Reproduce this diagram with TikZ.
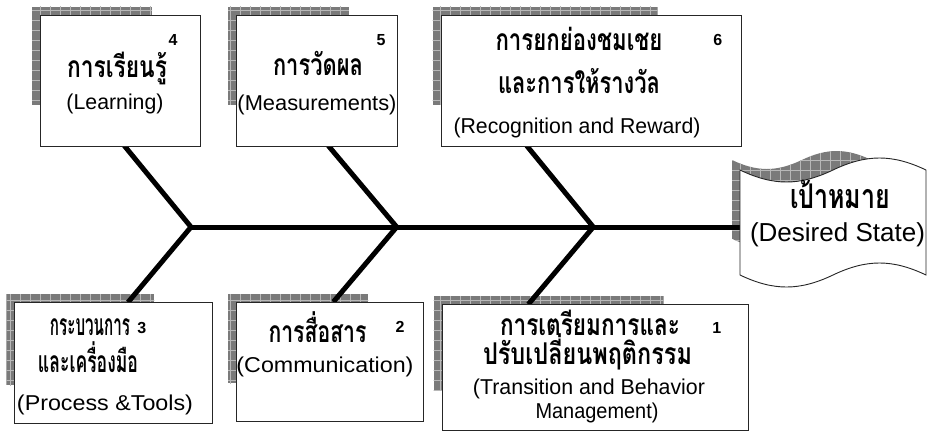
\documentclass[tikz,border=0pt]{standalone}
\usepackage{fontspec}
\usepackage{graphicx}
\setmainfont{Liberation Sans}
\newfontfamily\thaifont[Script=Thai]{Loma}
\newcommand\fitw[2]{\resizebox{#1pt}{\height}{#2}}
\newcommand\fitth[2]{\raisebox{0pt}[0.72em][0pt]{\resizebox{#1pt}{\height}{#2}}}
\tikzset{
  box/.style={draw=black!85, line width=0.9pt, fill=white, anchor=north west, inner sep=0pt},
  bone/.style={line width=5pt, line join=miter},
  thtxt/.style={font=\thaifont\bfseries\fontsize{30}{34}\selectfont, inner sep=0pt, anchor=base},
  entxt/.style={font=\fontsize{21.5}{25}\selectfont, inner sep=0pt, anchor=base},
  numtxt/.style={font=\bfseries\fontsize{16}{18}\selectfont, inner sep=0pt, anchor=base},
  shfill/.style={fill=black!52},
  shgrid/.style={draw=black!28, line width=0.6pt},
}
\newcommand\shadowrect[4]{%
  \begin{scope}
    \clip (#1-8,#2-8) rectangle ++(0.75*#3,0.75*#4);
    \fill[shfill] (#1-8,#2-8) rectangle ++(0.75*#3,0.75*#4);
    \draw[shgrid, step=10pt] (#1-20,#2+#4) grid (#1+#3,#2-20);
  \end{scope}}
\begin{document}
\begin{tikzpicture}[x=1pt,y=-1pt]
\useasboundingbox (0,0) rectangle (927,432);
\fill[white] (0,0) rectangle (927,432);

% shadows
\shadowrect{40}{14.7}{160}{131}
\shadowrect{236}{14.7}{161}{131}
\shadowrect{440.7}{14.7}{300}{131}
\shadowrect{14.3}{302.3}{197.4}{121}
\shadowrect{236}{302}{187}{118.7}
\shadowrect{441.7}{304.3}{306.6}{125.7}
\begin{scope}
  \clip[shift={(732,160)},scale=0.75] (0,0) .. controls (33.5,16) and (59.5,16) .. (93,0)
     .. controls (126.5,-16) and (152.5,-16) .. (186,0) -- (186,105)
     .. controls (152.5,89) and (126.5,89) .. (93,105)
     .. controls (59.5,121) and (33.5,121) .. (0,105) -- cycle;
  \fill[shfill] (720,140) rectangle (900,260);
  \draw[shgrid, step=10pt] (720,260) grid (900,140);
\end{scope}

% fishbone coordinates
\coordinate (j1) at (191,227);
\coordinate (j2) at (396.7,227);
\coordinate (j3) at (593.3,227);
\coordinate (e4) at (124.3,145.7);
\coordinate (e3) at (128,302.3);
\coordinate (e5) at (328.3,145.7);
\coordinate (e2) at (333.3,302);
\coordinate (e6) at (526.7,145.7);
\coordinate (e1) at (528.3,304.3);
\coordinate (gend) at (740,227);

\draw[bone] (e4) -- (j1) -- (e3);
\draw[bone] (e5) -- (j2) -- (e2);
\draw[bone] (e6) -- (j3) -- (e1);
\draw[bone] (j1) -- (gend);

% boxes
\node[box, minimum width=160pt, minimum height=131pt] (b4) at (40,14.7) {};
\node[box, minimum width=161pt, minimum height=131pt] (b5) at (236,14.7) {};
\node[box, minimum width=300pt, minimum height=131pt] (b6) at (440.7,14.7) {};
\node[box, minimum width=197.4pt, minimum height=121pt] (b3) at (14.3,302.3) {};
\node[box, minimum width=187pt, minimum height=118.7pt] (b2) at (236,302) {};
\node[box, minimum width=306.6pt, minimum height=125.7pt] (b1) at (441.7,304.3) {};

% goal shape
\filldraw[fill=white, draw=black!85, line width=0.9pt, shift={(740,170)}]
  (0,0) .. controls (33.5,16) and (59.5,16) .. (93,0)
  .. controls (126.5,-16) and (152.5,-16) .. (186,0) -- (186,105)
  .. controls (152.5,89) and (126.5,89) .. (93,105)
  .. controls (59.5,121) and (33.5,121) .. (0,105) -- cycle;

% texts box 4
\node[numtxt] (n4) at (173,45) {4};
\node[thtxt] (t4) at (117,77) {\fitth{100}{การเรียนรู้}};
\node[entxt] (l4) at (115,109) {\fitw{97}{(Learning)}};
% box 5
\node[numtxt] (n5) at (381,45) {5};
\node[thtxt] (t5) at (318,75) {\fitth{90}{การวัดผล}};
\node[entxt] (l5) at (317,110) {\fitw{159}{(Measurements)}};
% box 6
\node[numtxt] (n6) at (717.7,45) {6};
\node[thtxt] (t6a) at (579,50) {\fitth{167}{การยกย่องชมเชย}};
\node[thtxt] (t6b) at (579,93) {\fitth{162}{และการให้รางวัล}};
\node[entxt] (l6) at (577,133) {\fitw{247}{(Recognition and Reward)}};
% box 3
\node[numtxt] (n3) at (141.7,333) {3};
\node[thtxt] (t3a) at (90,335) {\fitth{80}{กระบวนการ}};
\node[thtxt] (t3b) at (88,372) {\fitth{100}{และเครื่องมือ}};
\node[entxt] (l3) at (105,410) {\fitw{176}{(Process \&Tools)}};
% box 2
\node[numtxt] (n2) at (400,332) {2};
\node[thtxt] (t2) at (317.5,342) {\fitth{98}{การสื่อสาร}};
\node[entxt] (l2) at (325,372) {\fitw{177}{(Communication)}};
% box 1
\node[numtxt] (n1) at (716.7,333) {1};
\node[thtxt] (t1a) at (590,335) {\fitth{180}{การเตรียมการและ}};
\node[thtxt] (t1b) at (587.5,364) {\fitth{209}{ปรับเปลี่ยนพฤติกรรม}};
\node[entxt] (l1a) at (589,394) {\fitw{232}{(Transition and Behavior}};
\node[entxt] (l1b) at (597,418) {\fitw{123}{Management)}};
% goal
\node[thtxt, font=\thaifont\bfseries\fontsize{34}{38}\selectfont] (g1) at (840,208) {\fitth{100}{เป้าหมาย}};
\node[entxt, font=\fontsize{26}{30}\selectfont] (g2) at (837.5,241) {\fitw{175}{(Desired State)}};
\end{tikzpicture}
\end{document}
